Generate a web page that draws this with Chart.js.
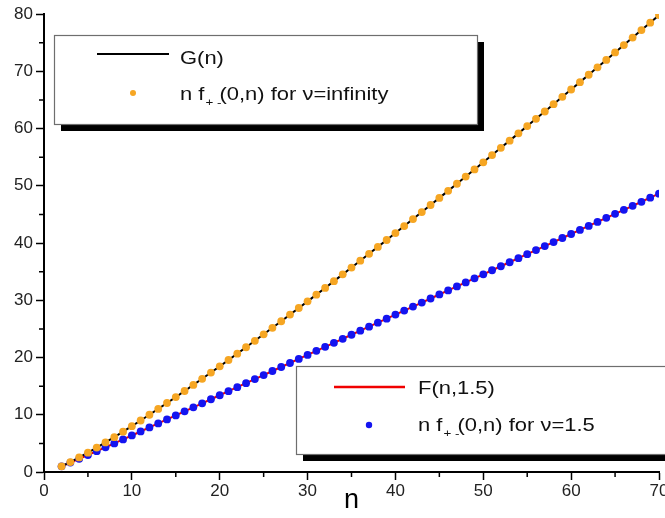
<!DOCTYPE html>
<html lang="en">
<head>
    <meta charset="UTF-8">
    <title>G(n) and F(n,1.5)</title>
    <script src="https://cdn.jsdelivr.net/npm/chart.js"></script>
    <style>
        html, body {
            margin: 0;
            padding: 0;
            background: #fff;
            overflow: hidden;
        }
    </style>
</head>
<body>
    <canvas id="chart" width="665" height="518"></canvas>
    <script>
        // sequence length n (x axis)
        const nValues = [2, 3, 4, 5, 6, 7, 8, 9, 10, 11, 12, 13, 14, 15, 16, 17, 18, 19, 20,
            21, 22, 23, 24, 25, 26, 27, 28, 29, 30, 31, 32, 33, 34, 35, 36, 37, 38, 39, 40,
            41, 42, 43, 44, 45, 46, 47, 48, 49, 50, 51, 52, 53, 54, 55, 56, 57, 58, 59, 60,
            61, 62, 63, 64, 65, 66, 67, 68, 69, 70];

        // G(n), also n f+-(0,n) for nu = infinity (they lie on top of each other)
        const gValues = [1.00, 1.74, 2.54, 3.38, 4.26, 5.16, 6.09, 7.04, 8.01, 9.00, 10.00, 11.02,
            12.05, 13.09, 14.15, 15.21, 16.28, 17.37, 18.46, 19.56, 20.67, 21.79, 22.92, 24.05,
            25.19, 26.33, 27.49, 28.65, 29.81, 30.98, 32.15, 33.34, 34.52, 35.71, 36.91, 38.11,
            39.32, 40.52, 41.74, 42.96, 44.18, 45.41, 46.64, 47.88, 49.11, 50.35, 51.60, 52.85,
            54.10, 55.36, 56.62, 57.88, 59.15, 60.42, 61.69, 62.97, 64.25, 65.53, 66.81, 68.10,
            69.39, 70.68, 71.98, 73.28, 74.58, 75.88, 77.19, 78.49, 79.81];

        // F(n,1.5), also n f+-(0,n) for nu = 1.5
        const fValues = [1.00, 1.65, 2.30, 2.97, 3.64, 4.32, 5.00, 5.69, 6.38, 7.08, 7.78, 8.48,
            9.19, 9.89, 10.60, 11.30, 12.00, 12.71, 13.41, 14.12, 14.82, 15.52, 16.23, 16.93,
            17.64, 18.34, 19.04, 19.75, 20.45, 21.16, 21.86, 22.56, 23.27, 23.97, 24.68, 25.38,
            26.08, 26.79, 27.49, 28.20, 28.90, 29.60, 30.31, 31.01, 31.72, 32.42, 33.12, 33.83,
            34.53, 35.24, 35.94, 36.64, 37.35, 38.05, 38.76, 39.46, 40.16, 40.87, 41.57, 42.28,
            42.98, 43.68, 44.39, 45.09, 45.80, 46.50, 47.20, 47.91, 48.61];

        const xTicks = [0, 10, 20, 30, 40, 50, 60, 70];
        const yTicks = [0, 10, 20, 30, 40, 50, 60, 70, 80];
        const xMinorTicks = [5, 15, 25, 35, 45, 55, 65];
        const yMinorTicks = [5, 15, 25, 35, 45, 55, 65, 75];

        const ORANGE = '#f6a623';
        const BLUE = '#1414f0';
        const RED = '#f00000';
        const FONT = '"Liberation Sans", Arial, sans-serif';

        function toPoints(ys) {
            return nValues.map((n, i) => ({ x: n, y: ys[i] }));
        }

        // text drawn a bit wider, like the original figure
        function wideText(ctx, str, x, y, size) {
            ctx.save();
            ctx.font = size + 'px ' + FONT;
            ctx.translate(x, y);
            ctx.scale(1.22, 1);
            ctx.fillText(str, 0, 0);
            const w = ctx.measureText(str).width * 1.22;
            ctx.restore();
            return w;
        }

        function nfLabel(ctx, x, y, tail) {
            let cx = x;
            cx += wideText(ctx, 'n f', cx, y, 18);
            wideText(ctx, '+ -', cx + 1, y + 6, 11);
            cx += 15;
            wideText(ctx, '(0,n) for ' + tail, cx, y, 18);
        }

        function legendBox(ctx, x1, y1, x2, y2) {
            ctx.fillStyle = '#000';
            ctx.fillRect(x1 + 7, y1 + 7, x2 - x1, y2 - y1);
            ctx.fillStyle = '#fff';
            ctx.fillRect(x1, y1, x2 - x1, y2 - y1);
            ctx.strokeStyle = '#6e6e6e';
            ctx.lineWidth = 1.2;
            ctx.strokeRect(x1 + 0.5, y1 + 0.5, x2 - x1, y2 - y1);
        }

        const figureExtras = {
            id: 'figureExtras',
            afterDraw(chart) {
                const ctx = chart.ctx;
                const xs = chart.scales.x;
                const ys = chart.scales.y;

                // minor ticks
                ctx.save();
                ctx.strokeStyle = '#000';
                ctx.lineWidth = 1.5;
                ctx.beginPath();
                xMinorTicks.forEach(v => {
                    const px = xs.getPixelForValue(v);
                    ctx.moveTo(px, ys.bottom);
                    ctx.lineTo(px, ys.bottom + 5);
                });
                yMinorTicks.forEach(v => {
                    const py = ys.getPixelForValue(v);
                    ctx.moveTo(xs.left, py);
                    ctx.lineTo(xs.left - 5, py);
                });
                ctx.stroke();
                ctx.restore();

                // legend boxes
                ctx.save();
                ctx.textBaseline = 'alphabetic';
                legendBox(ctx, 54, 35, 477, 124);
                ctx.strokeStyle = '#000';
                ctx.lineWidth = 2;
                ctx.beginPath();
                ctx.moveTo(97, 54);
                ctx.lineTo(169, 54);
                ctx.stroke();
                ctx.fillStyle = '#111';
                wideText(ctx, 'G(n)', 180, 63.5, 18);
                ctx.fillStyle = ORANGE;
                ctx.beginPath();
                ctx.arc(133, 93, 3, 0, Math.PI * 2);
                ctx.fill();
                ctx.fillStyle = '#111';
                nfLabel(ctx, 180, 100, '\u03bd=infinity');

                legendBox(ctx, 296, 366, 680, 454);
                ctx.strokeStyle = RED;
                ctx.lineWidth = 2.5;
                ctx.beginPath();
                ctx.moveTo(334, 387);
                ctx.lineTo(405, 387);
                ctx.stroke();
                ctx.fillStyle = '#111';
                wideText(ctx, 'F(n,1.5)', 418, 394, 18);
                ctx.fillStyle = BLUE;
                ctx.beginPath();
                ctx.arc(369, 425, 3.2, 0, Math.PI * 2);
                ctx.fill();
                ctx.fillStyle = '#111';
                nfLabel(ctx, 418, 431, '\u03bd=1.5');
                ctx.restore();
            }
        };

        new Chart(document.getElementById('chart'), {
            type: 'scatter',
            data: {
                datasets: [
                    {
                        label: 'n f+-(0,n) for \u03bd=infinity',
                        data: toPoints(gValues),
                        backgroundColor: ORANGE,
                        pointRadius: 3.9,
                        pointBorderWidth: 0,
                        showLine: false
                    },
                    {
                        label: 'n f+-(0,n) for \u03bd=1.5',
                        data: toPoints(fValues),
                        backgroundColor: BLUE,
                        pointRadius: 3.9,
                        pointBorderWidth: 0,
                        showLine: false
                    },
                    {
                        label: 'G(n)',
                        data: toPoints(gValues),
                        borderColor: '#000',
                        borderWidth: 2,
                        pointRadius: 0,
                        showLine: true
                    },
                    {
                        label: 'F(n,1.5)',
                        data: toPoints(fValues),
                        borderColor: RED,
                        borderWidth: 2,
                        pointRadius: 0,
                        showLine: true
                    }
                ]
            },
            options: {
                responsive: false,
                animation: false,
                events: [],
                layout: { padding: { top: 14, right: 6, left: 0, bottom: 0 } },
                plugins: {
                    legend: { display: false },
                    tooltip: { enabled: false }
                },
                scales: {
                    x: {
                        type: 'linear',
                        min: 0,
                        max: 70,
                        afterBuildTicks: s => { s.ticks = xTicks.map(v => ({ value: v })); },
                        afterFit: s => { s.height = 46; s.paddingLeft = 0; s.paddingRight = 0; },
                        grid: { drawOnChartArea: false, drawTicks: true, tickLength: 8, tickColor: '#000', tickWidth: 1.5 },
                        border: { display: true, color: '#000', width: 2 },
                        ticks: { color: '#222', font: { family: FONT, size: 17 }, padding: 1, maxRotation: 0, autoSkip: false },
                        title: { display: true, text: 'n', color: '#000', font: { family: FONT, size: 27 }, padding: { top: 0, bottom: 1 } }
                    },
                    y: {
                        type: 'linear',
                        min: 0,
                        max: 80,
                        afterBuildTicks: s => { s.ticks = yTicks.map(v => ({ value: v })); },
                        afterFit: s => { s.width = 44; s.paddingTop = 0; s.paddingBottom = 0; },
                        grid: { drawOnChartArea: false, drawTicks: true, tickLength: 8, tickColor: '#000', tickWidth: 1.5 },
                        border: { display: true, color: '#000', width: 2 },
                        ticks: { color: '#222', font: { family: FONT, size: 17 }, padding: 3 }
                    }
                }
            },
            plugins: [figureExtras]
        });
    </script>
</body>
</html>
